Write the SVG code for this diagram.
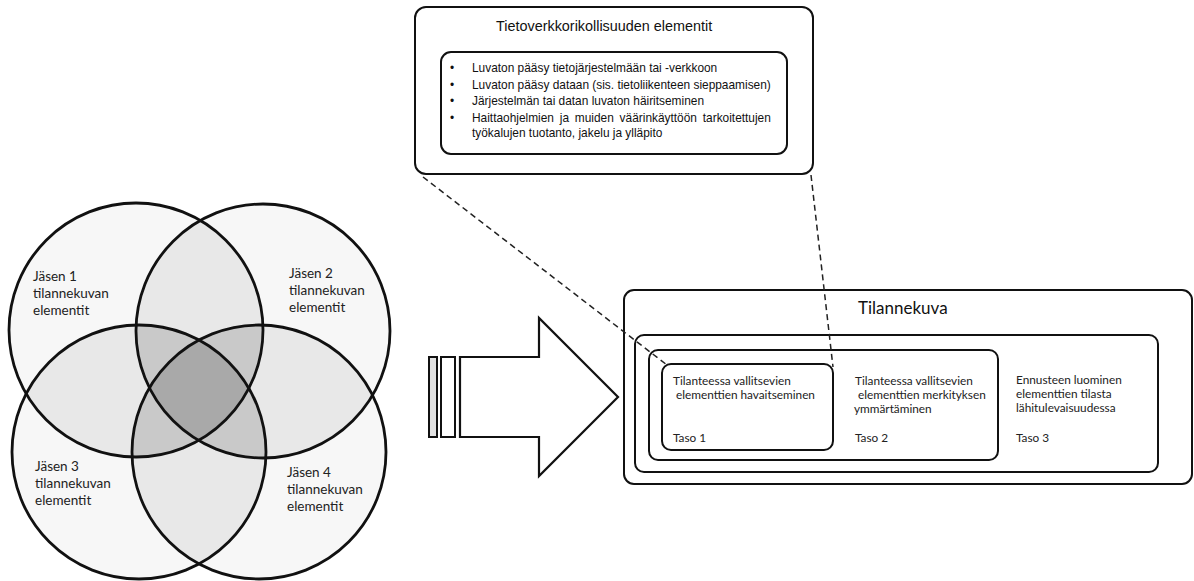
<svg xmlns="http://www.w3.org/2000/svg" width="1194" height="581" viewBox="0 0 1194 581">
<style>
.bg{fill:#ffffff}
.ring{fill:none;stroke:#111;stroke-width:2.8}
.s1{fill:#f7f7f7}
.s2{fill:#e8e8e8}
.s3{fill:#c9c9c9}
.s4{fill:#a9a9a9}
.box{fill:#ffffff;stroke:#111;stroke-width:2}
.arrow{fill:#ffffff;stroke:#111;stroke-width:2.2;stroke-linejoin:miter}
.dash{fill:none;stroke:#222;stroke-width:1.5;stroke-dasharray:6 4}
.mem{font-family:Lato,"Open Sans",sans-serif;font-size:13.5px;fill:#222}
.cal{font-family:Lato,"Open Sans",sans-serif;font-size:11.8px;fill:#222}
.ttl{font-family:Lato,"Open Sans",sans-serif;font-size:17px;fill:#111}
.ar{font-family:"Liberation Sans",Arial,sans-serif;font-size:11.9px;fill:#111}
.art{font-family:"Liberation Sans",Arial,sans-serif;font-size:14.4px;fill:#111}
</style>
<defs>
<clipPath id="cp1"><circle cx="136" cy="330" r="127"/></clipPath>
<clipPath id="cp2"><circle cx="263" cy="331" r="127"/></clipPath>
<clipPath id="cp3"><circle cx="139" cy="452" r="127"/></clipPath>
<clipPath id="cp4"><circle cx="259" cy="452" r="127"/></clipPath>
</defs>
<rect class="bg" x="0" y="0" width="1194" height="581"/>

<g id="venn">
<circle class="s1" cx="136" cy="330" r="127"/>
<circle class="s1" cx="263" cy="331" r="127"/>
<circle class="s1" cx="139" cy="452" r="127"/>
<circle class="s1" cx="259" cy="452" r="127"/>
<circle class="s2" cx="136" cy="330" r="127" clip-path="url(#cp2)"/>
<circle class="s2" cx="136" cy="330" r="127" clip-path="url(#cp3)"/>
<circle class="s2" cx="136" cy="330" r="127" clip-path="url(#cp4)"/>
<circle class="s2" cx="263" cy="331" r="127" clip-path="url(#cp3)"/>
<circle class="s2" cx="263" cy="331" r="127" clip-path="url(#cp4)"/>
<circle class="s2" cx="139" cy="452" r="127" clip-path="url(#cp4)"/>
<g clip-path="url(#cp3)"><circle class="s3" cx="136" cy="330" r="127" clip-path="url(#cp2)"/></g>
<g clip-path="url(#cp4)"><circle class="s3" cx="136" cy="330" r="127" clip-path="url(#cp2)"/></g>
<g clip-path="url(#cp4)"><circle class="s3" cx="136" cy="330" r="127" clip-path="url(#cp3)"/></g>
<g clip-path="url(#cp4)"><circle class="s3" cx="263" cy="331" r="127" clip-path="url(#cp3)"/></g>
<g clip-path="url(#cp1)"><g clip-path="url(#cp2)"><circle class="s4" cx="139" cy="452" r="127" clip-path="url(#cp4)"/></g></g>
<circle class="ring" cx="136" cy="330" r="127"/>
<circle class="ring" cx="263" cy="331" r="127"/>
<circle class="ring" cx="139" cy="452" r="127"/>
<circle class="ring" cx="259" cy="452" r="127"/>
</g>

<g id="member1"><text class="mem" x="33" y="281">Jäsen 1</text><text class="mem" x="33" y="298">tilannekuvan</text><text class="mem" x="33" y="315">elementit</text></g>
<g id="member2"><text class="mem" x="289" y="278">Jäsen 2</text><text class="mem" x="289" y="295">tilannekuvan</text><text class="mem" x="289" y="312">elementit</text></g>
<g id="member3"><text class="mem" x="35" y="471">Jäsen 3</text><text class="mem" x="35" y="488">tilannekuvan</text><text class="mem" x="35" y="505">elementit</text></g>
<g id="member4"><text class="mem" x="287" y="477">Jäsen 4</text><text class="mem" x="287" y="494">tilannekuvan</text><text class="mem" x="287" y="511">elementit</text></g>

<g id="arrow">
<rect x="429" y="357" width="8" height="80" fill="#e2e2e2" stroke="#111" stroke-width="2"/>
<rect x="441" y="357" width="14" height="80" fill="#ffffff" stroke="#111" stroke-width="2"/>
<path class="arrow" d="M460,357 H539 V318 L618,397 L539,476 V437 H460 Z"/>
</g>

<g id="cybercrime">
<rect class="box" x="415" y="7" width="398" height="167" rx="11"/>
<text class="art" x="496" y="31">Tietoverkkorikollisuuden elementit</text>
<rect class="box" x="441" y="52" width="346" height="102" rx="10"/>
<text class="ar" x="450" y="72">•</text><text class="ar" x="472" y="72">Luvaton pääsy tietojärjestelmään tai -verkkoon</text>
<text class="ar" x="450" y="88.5">•</text><text class="ar" x="472" y="88.5">Luvaton pääsy dataan (sis. tietoliikenteen sieppaamisen)</text>
<text class="ar" x="450" y="105">•</text><text class="ar" x="472" y="105">Järjestelmän tai datan luvaton häiritseminen</text>
<text class="ar" x="450" y="121.5">•</text><text class="ar" x="472" y="121.5" word-spacing="2.5">Haittaohjelmien ja muiden väärinkäyttöön tarkoitettujen</text>
<text class="ar" x="472" y="137">työkalujen tuotanto, jakelu ja ylläpito</text>
</g>

<g id="tilannekuva">
<rect class="box" x="624" y="290" width="568" height="194" rx="10"/>
<text class="ttl" x="858" y="314">Tilannekuva</text>
<rect class="box" x="635" y="335" width="523" height="137" rx="9"/>
<text class="cal" x="1016" y="384">Ennusteen luominen</text>
<text class="cal" x="1016" y="398">elementtien tilasta</text>
<text class="cal" x="1016" y="412">lähitulevaisuudessa</text>
<text class="cal" x="1016" y="442">Taso 3</text>
</g>
<g id="taso2">
<rect class="box" x="649" y="350" width="349" height="110" rx="9"/>
<text class="cal" x="855" y="385">Tilanteessa vallitsevien</text>
<text class="cal" x="858" y="399">elementtien merkityksen</text>
<text class="cal" x="854" y="413">ymmärtäminen</text>
<text class="cal" x="855" y="442">Taso 2</text>
</g>
<g id="taso1">
<rect class="box" x="662" y="364" width="171" height="86" rx="9"/>
<text class="cal" x="673" y="385">Tilanteessa vallitsevien</text>
<text class="cal" x="676" y="399">elementtien havaitseminen</text>
<text class="cal" x="673" y="442">Taso 1</text>
</g>

<g id="connectors">
<line class="dash" x1="423" y1="177" x2="667" y2="365"/>
<line class="dash" x1="811" y1="175" x2="833" y2="367"/>
</g>
</svg>
